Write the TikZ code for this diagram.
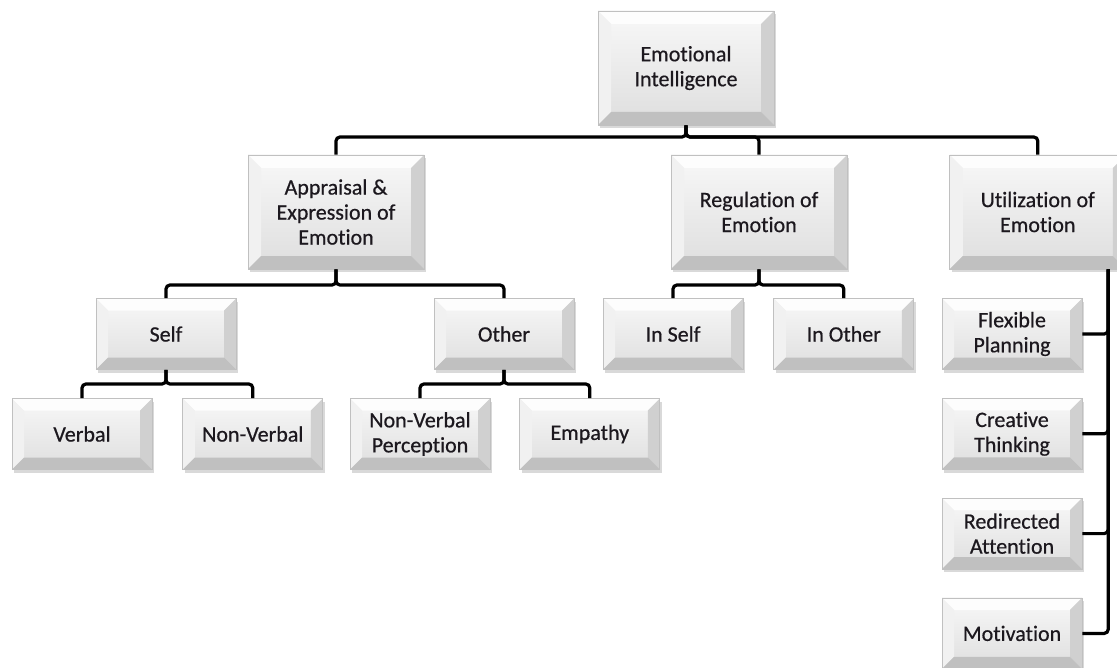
\documentclass[tikz,border=0pt]{standalone}
\usepackage{fontspec}
\setmainfont{Carlito}[Ligatures=NoCommon, FakeBold=0.6]
\usetikzlibrary{positioning, calc, shadows}
\definecolor{clrFaceT}{RGB}{248,248,248}
\definecolor{clrFaceB}{RGB}{222,222,222}
\definecolor{clrBvT} {RGB}{253,253,253}
\definecolor{clrBvL} {RGB}{241,241,241}
\definecolor{clrBvR} {RGB}{208,208,208}
\definecolor{clrBvB} {RGB}{192,192,192}
\definecolor{clrEdge}{RGB}{192,192,192}
\definecolor{clrTxt} {RGB}{ 28, 24, 30}

\tikzset{
  %% bevelled face drawn inside a box
  bevel/.style = {path picture={
    \fill[clrBvT] (path picture bounding box.north west) -- (path picture bounding box.north east)
      -- ([shift={(-#1,-#1)}]path picture bounding box.north east)
      -- ([shift={(#1,-#1)}]path picture bounding box.north west) -- cycle;
    \fill[clrBvL] (path picture bounding box.north west)
      -- ([shift={(#1,-#1)}]path picture bounding box.north west)
      -- ([shift={(#1,#1)}]path picture bounding box.south west)
      -- (path picture bounding box.south west) -- cycle;
    \fill[clrBvR] (path picture bounding box.north east) -- (path picture bounding box.south east)
      -- ([shift={(-#1,#1)}]path picture bounding box.south east)
      -- ([shift={(-#1,-#1)}]path picture bounding box.north east) -- cycle;
    \fill[clrBvB] (path picture bounding box.south west) -- (path picture bounding box.south east)
      -- ([shift={(-#1,#1)}]path picture bounding box.south east)
      -- ([shift={(#1,#1)}]path picture bounding box.south west) -- cycle;
  }},
}

\begin{document}
\begin{tikzpicture}[
  x=0.5pt, y=-0.5pt,
  %% ── box styles ───────────────────────────────────────────────────────────
  bigbox/.style   = {rectangle, draw=clrEdge, line width=0.4pt,
                     top color=clrFaceT, bottom color=clrFaceB,
                     minimum width=88pt, minimum height=57pt,
                     inner sep=2pt, align=center, text=clrTxt,
                     font=\fontsize{11}{12.5}\selectfont, bevel=6.5pt,
                     drop shadow={shadow xshift=1.2pt, shadow yshift=-1.6pt, opacity=0.3}},
  smallbox/.style = {bigbox, minimum width=70pt, minimum height=35.5pt, bevel=6pt},
  %% ── connector style ──────────────────────────────────────────────────────
  conn/.style     = {line width=1.6pt, black, rounded corners=2pt},
]
\useasboundingbox (0,0) rectangle (1117,668);

%% ═══════════════════════════════════════════════════════════════════════════
%% TOP: root and the three branches
%% ═══════════════════════════════════════════════════════════════════════════
\node[bigbox] (ei)   at (686,68)  {Emotional\\Intelligence};
\node[bigbox] (appr) at (336,212) {Appraisal \&\\Expression of\\Emotion};
\node[bigbox] (reg)  at (759,212) {Regulation of\\Emotion};
\node[bigbox, right=51pt of reg] (util) {Utilization of\\Emotion};

%% ═══════════════════════════════════════════════════════════════════════════
%% MIDDLE ROW: self / other, in self / in other
%% ═══════════════════════════════════════════════════════════════════════════
\node[smallbox] (self)   at (166,334) {Self};
\node[smallbox] (other)  at (504,334) {Other};
\node[smallbox] (inself) at (673,334) {In Self};
\node[smallbox, right=15pt of inself] (inother) {In Other};

%% ═══════════════════════════════════════════════════════════════════════════
%% BOTTOM ROW under self and other
%% ═══════════════════════════════════════════════════════════════════════════
\node[smallbox] (verbal) at (82,434) {Verbal};
\node[smallbox, right=15pt of verbal] (nonverbal) {Non-Verbal};
\node[smallbox] (nvperc) at (420,434) {Non-Verbal\\Perception};
\node[smallbox, right=14.5pt of nvperc] (empathy) {Empathy};

%% ── utilization column ────────────────────────────────────────────────────
\node[smallbox] (flex) at (1012,334) {Flexible\\Planning};
\node[smallbox, below=14pt of flex]     (creative) {Creative\\Thinking};
\node[smallbox, below=14pt of creative] (redir)    {Redirected\\Attention};
\node[smallbox, below=14pt of redir]    (motiv)    {Motivation};

%% ── bar heights ───────────────────────────────────────────────────────────
\coordinate (barA) at (0,137);
\coordinate (barB) at (0,285);
\coordinate (barC) at (0,384);
\coordinate (spine) at ([xshift=-9pt]util.south east);

%% ── root to branches ──────────────────────────────────────────────────────
\draw[conn] (ei.south) -- (ei.south |- barA) -| (appr.north);
\draw[conn] (ei.south) -- (ei.south |- barA) -| (reg.north);
\draw[conn] (ei.south) -- (ei.south |- barA) -| (util.north);

%% ── branches to middle row ────────────────────────────────────────────────
\draw[conn] (appr.south) -- (appr.south |- barB) -| (self.north);
\draw[conn] (appr.south) -- (appr.south |- barB) -| (other.north);
\draw[conn] (reg.south)  -- (reg.south |- barB)  -| (inself.north);
\draw[conn] (reg.south)  -- (reg.south |- barB)  -| (inother.north);

%% ── middle row to bottom row ──────────────────────────────────────────────
\draw[conn] (self.south)  -- (self.south |- barC)  -| (verbal.north);
\draw[conn] (self.south)  -- (self.south |- barC)  -| (nonverbal.north);
\draw[conn] (other.south) -- (other.south |- barC) -| (nvperc.north);
\draw[conn] (other.south) -- (other.south |- barC) -| (empathy.north);

%% ── hanging column on the right ───────────────────────────────────────────
\draw[conn] (spine) |- (flex.east);
\draw[conn] (spine) |- (creative.east);
\draw[conn] (spine) |- (redir.east);
\draw[conn] (spine) |- (motiv.east);

\end{tikzpicture}
\end{document}
